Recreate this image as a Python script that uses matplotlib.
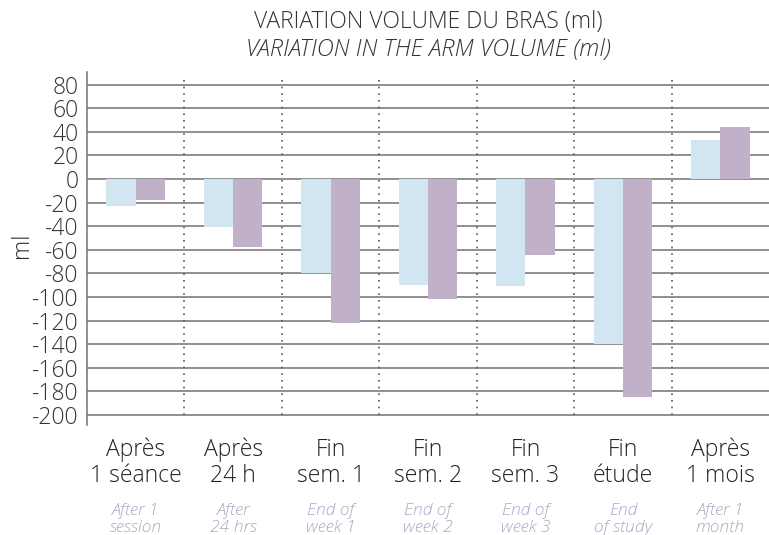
import matplotlib
matplotlib.use("Agg")
import matplotlib.pyplot as plt
import matplotlib.transforms as mtransforms
import numpy as np

# values (ml)
labels_fr = ["Après\n1 séance", "Après\n24 h", "Fin\nsem. 1", "Fin\nsem. 2",
             "Fin\nsem. 3", "Fin\nétude", "Après\n1 mois"]
labels_en = ["After 1\nsession", "After\n24 hrs", "End of\nweek 1", "End of\nweek 2",
             "End of\nweek 3", "End\nof study", "After 1\nmonth"]
series_a = [-23, -41, -80, -90, -91, -140, 33]
series_b = [-18, -58, -122, -102, -64, -185, 44]
yticks = list(range(-200, 81, 20))

plt.rcParams["font.family"] = ["Open Sans", "DejaVu Sans"]

fig = plt.figure(figsize=(7.69, 5.35), dpi=100)
ax = fig.add_axes([87 / 769, 1 - 425 / 535, 682 / 769, 353 / 535])

x = np.arange(len(labels_fr))
w = 0.3
ax.bar(x - w / 2, series_a, width=w, color="#d1e6f1", zorder=3)
ax.bar(x + w / 2, series_b, width=w, color="#c0b1c9", zorder=3)

for t in yticks:
    ax.axhline(t, color="#727272", lw=1.1, zorder=1)
for s in x[:-1] + 0.5:
    ax.plot([s, s], [-200, 88], color="#5a5a5a", lw=1.2, ls=(0, (1, 3)), zorder=2)

ax.set_xlim(-0.5, len(x) - 0.5)
ax.set_ylim(-208.5, 90.7)
ax.set_yticks(yticks)
ax.set_yticklabels([str(t) for t in yticks], fontsize=16.5, color="#333333",
                   fontweight="light")
ax.tick_params(axis="y", length=0, pad=6)
ax.set_xticks([])
for side in ["top", "right", "bottom"]:
    ax.spines[side].set_visible(False)
ax.spines["left"].set_color("#727272")
ax.spines["left"].set_linewidth(1.1)
ax.set_ylabel("ml", fontsize=16.5, color="#333333", fontweight="light")
ax.yaxis.set_label_coords(-0.078, 0.51)

trans = mtransforms.blended_transform_factory(ax.transData, ax.transAxes)
for i in x:
    ax.text(i, -0.108, labels_fr[i], transform=trans, ha="center", va="center",
            fontsize=16.5, color="#222222", linespacing=1.1, fontweight="light")
    ax.text(i, -0.268, labels_en[i], transform=trans, ha="center", va="center",
            fontsize=12.5, color="#b3a3c4", style="italic", linespacing=1.05,
            fontweight="light")

fig.text(428 / 769, 1 - 22 / 535, "VARIATION VOLUME DU BRAS (ml)", ha="center",
         va="center", fontsize=16.5, color="#333333", fontweight="light")
fig.text(428 / 769, 1 - 50 / 535, "VARIATION IN THE ARM VOLUME (ml)", ha="center",
         va="center", fontsize=17, color="#333333", style="italic",
         fontweight="light")

fig.savefig("out.png", dpi=100)
